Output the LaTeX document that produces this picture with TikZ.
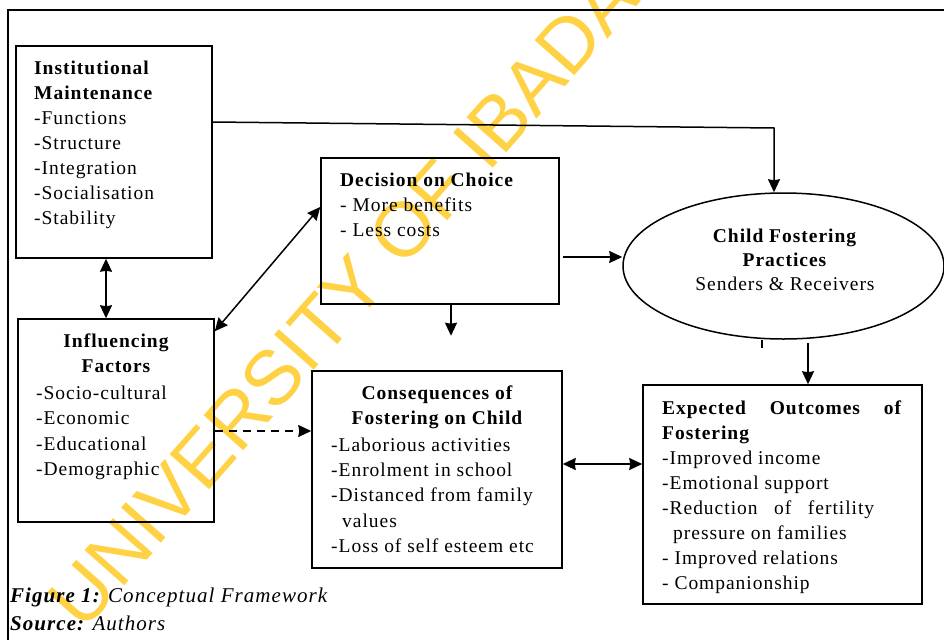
\documentclass[tikz,border=0pt]{standalone}
\usepackage{fontspec}
\setmainfont{Liberation Serif}[LetterSpace=5]
\newfontfamily\wmfont{Liberation Sans}
\usetikzlibrary{arrows.meta,shapes.geometric}
\definecolor{wmyellow}{RGB}{255,210,70}
\newcommand{\bodysize}{\fontsize{19.5}{25}\selectfont}
\tikzset{
  box/.style={draw, line width=1.5pt, inner sep=0pt},
  txt/.style={inner sep=0pt, align=left, anchor=north west, font=\bodysize},
  head/.style={inner sep=0pt, align=center, anchor=north, font=\bodysize\bfseries},
  tip/.style={},
  arr/.style={line width=1.5pt, -{Stealth[length=13pt,width=12pt,inset=1pt]}},
  darr/.style={line width=1.5pt, {Stealth[length=13pt,width=12pt,inset=1pt]}-{Stealth[length=13pt,width=12pt,inset=1pt]}},
}
\begin{document}
\begin{tikzpicture}[x=1pt,y=-1pt]
  \useasboundingbox (0,0) rectangle (944,640);

  % Watermark
  \node[rotate=48.5, font=\wmfont\fontsize{77}{77}\selectfont, text=wmyellow, inner sep=0pt] (wm) at (361,278) {UNIVERSITY OF IBADAN};

  % Outer frame
  \draw[line width=1.3pt] (944,10) -- (8,10) -- (8,640);

  % Boxes
  \node[box, minimum width=196pt, minimum height=212pt] (inst) at (114,152) {};
  \node[box, minimum width=196pt, minimum height=203pt] (infl) at (116,420.5) {};
  \node[box, minimum width=238pt, minimum height=146pt] (dec) at (440,231) {};
  \node[box, ellipse, minimum width=321pt, minimum height=146pt] (cfp) at (783.5,266) {};
  \node[box, minimum width=250pt, minimum height=197pt] (cons) at (437,469.5) {};
  \node[box, minimum width=279pt, minimum height=219pt] (exp) at (782.5,494.5) {};

  % Texts
  \node[txt] (insttxt) at (34,60.7) {\textbf{Institutional}\\\textbf{Maintenance}\\-Functions\\-Structure\\-Integration\\-Socialisation\\-Stability};
  \node[head] (inflhead) at (116,333.7) {Influencing\\Factors};
  \node[txt, font=\fontsize{19.5}{25.3}\selectfont] (infltxt) at (36,385.7) {-Socio-cultural\\-Economic\\-Educational\\-Demographic};
  \node[txt] (dectxt) at (340,172.7) {\textbf{Decision on Choice}\\- More benefits\\- Less costs};
  \node[head, font=\fontsize{19.5}{24}\selectfont] (cfptxt) at (785,228.7) {\textbf{Child Fostering}\\\textbf{Practices}\\Senders \& Receivers};
  \node[head] (conshead) at (437,385.7) {Consequences of\\Fostering on Child};
  \node[txt, font=\fontsize{19.5}{25.2}\selectfont] (constxt) at (331,437.7) {-Laborious activities\\-Enrolment in school\\-Distanced from family\\\hspace*{11pt}values\\-Loss of self esteem etc};
  \node[txt] (exptxt) at (662,400.7) {\makebox[239pt][s]{\bfseries Expected Outcomes of}\\\textbf{Fostering}\\-Improved income\\-Emotional support\\\makebox[212pt][s]{-Reduction of fertility}\\\hspace*{11pt}pressure on families\\- Improved relations\\- Companionship};

  % Caption
  \node[txt, font=\fontsize{21}{28}\selectfont\itshape] (caption) at (10,587.7) {\textbf{Figure 1:} Conceptual Framework\\\textbf{Source:} Authors};

  % Connectors
  \coordinate (bend) at (774,128);
  \draw[arr] ([yshift=30pt]inst.east) -- (bend) -- (bend |- cfp.north);
  \draw[darr] ([xshift=-8pt]inst.south) -- ([xshift=-10pt]infl.north);
  \draw[darr] ([yshift=-13pt]infl.north east) -- ([yshift=24pt]dec.west);
  \draw[arr] ([xshift=3pt,yshift=-26pt]dec.east) -- ([yshift=-26pt]dec.east -| cfp.west);
  \coordinate (decdown) at ([xshift=11pt,yshift=-31pt]dec.south);
  \draw[arr] ([xshift=11pt]dec.south) -- (decdown);
  \draw[arr, dash pattern=on 8pt off 6pt] ([yshift=-10.5pt]infl.east) -- ([yshift=-10.5pt]infl.east -| cons.west);
  \draw[darr] ([yshift=5.5pt]cons.east) -- ([yshift=5.5pt]cons.east -| exp.west);
  \draw[arr] ([xshift=25.5pt,yshift=-3pt]exp.north |- cfp.south) -- ([xshift=25.5pt]exp.north);
  \draw[line width=1.3pt] ([xshift=-21.5pt]cfp.south) -- ++(0,8);
\end{tikzpicture}
\end{document}
